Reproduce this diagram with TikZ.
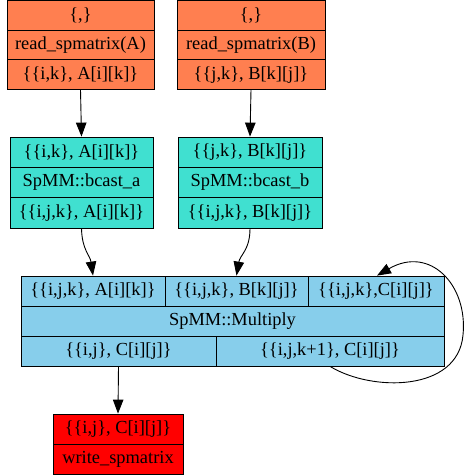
\documentclass[tikz,border=0pt]{standalone}
\usepackage{fontspec}
\setmainfont{Liberation Serif}
\usetikzlibrary{arrows.meta}
\definecolor{coralc}{RGB}{255,127,80}
\definecolor{turq}{RGB}{64,224,208}
\definecolor{skyb}{RGB}{135,206,235}
\definecolor{redc}{RGB}{255,0,0}
\begin{document}
\begin{tikzpicture}[x=1pt,y=-1pt,
  cell/.style={draw=black, line width=0.8pt, inner sep=0pt, font=\fontsize{18.4}{20}\selectfont, anchor=center},
  edge/.style={draw=black, line width=0.9pt, -{Triangle[length=14pt,width=10.5pt]}}]
\useasboundingbox (0,0) rectangle (464,476);
% orange A
\node[cell, fill=coralc, minimum width=147pt, minimum height=29.67pt] (oa1) at (80.5,15.33) {\{,\}};
\node[cell, fill=coralc, minimum width=147pt, minimum height=29.67pt] (oa2) at (80.5,45) {read\_spmatrix(A)};
\node[cell, fill=coralc, minimum width=147pt, minimum height=29.67pt] (oa3) at (80.5,74.67) {\{\{i,k\}, A[i][k]\}};
% orange B
\node[cell, fill=coralc, minimum width=148pt, minimum height=29.67pt] (ob1) at (251,15.33) {\{,\}};
\node[cell, fill=coralc, minimum width=148pt, minimum height=29.67pt] (ob2) at (251,45) {read\_spmatrix(B)};
\node[cell, fill=coralc, minimum width=148pt, minimum height=29.67pt] (ob3) at (251,74.67) {\{\{j,k\}, B[k][j]\}};
% teal A
\node[cell, fill=turq, minimum width=143pt, minimum height=30.33pt] (ta1) at (81.5,152.17) {\{\{i,k\}, A[i][k]\}};
\node[cell, fill=turq, minimum width=143pt, minimum height=30.33pt] (ta2) at (81.5,182.5) {SpMM::bcast\_a};
\node[cell, fill=turq, minimum width=143pt, minimum height=30.33pt] (ta3) at (81.5,212.83) {\{\{i,j,k\}, A[i][k]\}};
% teal B
\node[cell, fill=turq, minimum width=144pt, minimum height=30.33pt] (tb1) at (250,152.17) {\{\{j,k\}, B[k][j]\}};
\node[cell, fill=turq, minimum width=144pt, minimum height=30.33pt] (tb2) at (250,182.5) {SpMM::bcast\_b};
\node[cell, fill=turq, minimum width=144pt, minimum height=30.33pt] (tb3) at (250,212.83) {\{\{i,j,k\}, B[k][j]\}};
% multiply
\node[cell, fill=skyb, minimum width=144pt, minimum height=30pt] (m1) at (93,291) {\{\{i,j,k\}, A[i][k]\}};
\node[cell, fill=skyb, minimum width=143pt, minimum height=30pt] (m2) at (236.5,291) {\{\{i,j,k\}, B[k][j]\}};
\node[cell, fill=skyb, minimum width=136pt, minimum height=30pt] (m3) at (376,291) {\{\{i,j,k\},C[i][j]\}};
\node[cell, fill=skyb, minimum width=423pt, minimum height=30pt] (m4) at (232.5,321) {SpMM::Multiply};
\node[cell, fill=skyb, minimum width=195pt, minimum height=30pt] (m5) at (118.5,351) {\{\{i,j\}, C[i][j]\}};
\node[cell, fill=skyb, minimum width=228pt, minimum height=30pt] (m6) at (330,351) {\{\{i,j,k+1\}, C[i][j]\}};
% red
\node[cell, fill=redc, minimum width=130pt, minimum height=30pt] (r1) at (118,429) {\{\{i,j\}, C[i][j]\}};
\node[cell, fill=redc, minimum width=130pt, minimum height=30pt] (r2) at (118,459) {write\_spmatrix};
% edges
\draw[edge] (oa3.south) -- (ta1.north);
\draw[edge] (ob3.south) -- (tb1.north);
\draw[edge] (ta3.south) .. controls (82,250) and (90,255) .. (m1.north);
\draw[edge] (tb3.south) .. controls (250,250) and (240,255) .. (m2.north);
\draw[edge] (m5.south) -- (r1.north);
\coordinate (lpR) at (463,335);
\draw[edge] (m6.south) .. controls (372,392) and (458,392) .. (lpR) .. controls (468,285) and (430,245) .. ([xshift=1pt]m3.north);
\end{tikzpicture}
\end{document}
